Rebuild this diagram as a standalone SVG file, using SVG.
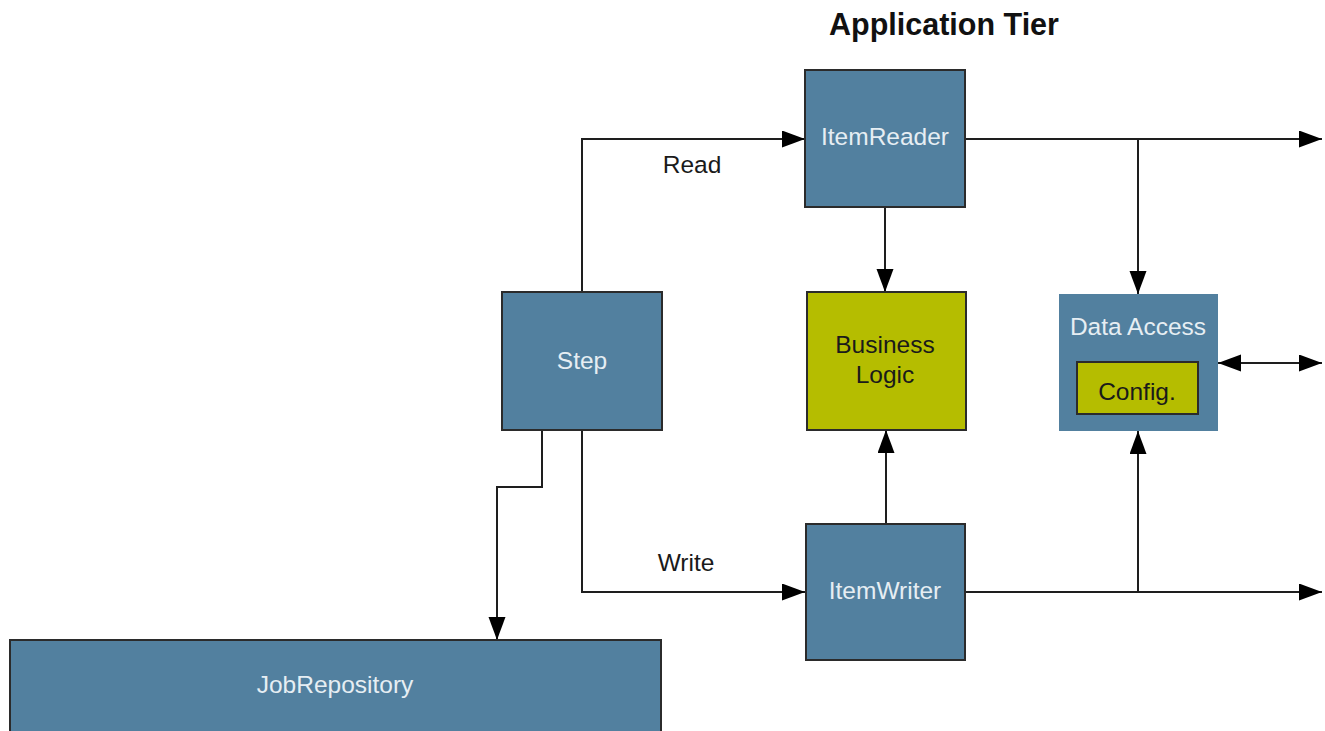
<svg xmlns="http://www.w3.org/2000/svg" width="1325" height="731" viewBox="0 0 1325 731">
<style>
.box{fill:#52809f;stroke:#2b2b2b;stroke-width:2}
.yel{fill:#b5bd00;stroke:#2b2b2b;stroke-width:2}
.lt{font-family:"Liberation Sans",Arial,sans-serif;font-size:24.5px;fill:#e6eef3;text-anchor:middle}
.dk{font-family:"Liberation Sans",Arial,sans-serif;font-size:24.5px;fill:#1a1a1a;text-anchor:middle}
.ln{fill:none;stroke:#1e1e1e;stroke-width:2}
</style>
<defs>
<marker id="ah" markerUnits="userSpaceOnUse" markerWidth="26" markerHeight="18" refX="23" refY="8.5" orient="auto-start-reverse">
<path d="M0,0 L23,8.5 L0,17 z" fill="#000"/>
</marker>
</defs>
<rect width="1325" height="731" fill="#fff"/>
<text x="944" y="35" font-family="'Liberation Sans',Arial,sans-serif" font-size="30.5" font-weight="bold" fill="#111" text-anchor="middle">Application Tier</text>
<g id="connectors">
<path class="ln" d="M582,292 V139 H805" marker-end="url(#ah)"/>
<path class="ln" d="M885,207 V292" marker-end="url(#ah)"/>
<path class="ln" d="M965,139 H1322" marker-end="url(#ah)"/>
<path class="ln" d="M1138,139 V294" marker-end="url(#ah)"/>
<path class="ln" d="M1218,363 H1322" marker-start="url(#ah)" marker-end="url(#ah)"/>
<path class="ln" d="M582,430 V592 H805" marker-end="url(#ah)"/>
<path class="ln" d="M542,430 V487 H497 V640" marker-end="url(#ah)"/>
<path class="ln" d="M886,524 V430" marker-end="url(#ah)"/>
<path class="ln" d="M965,592 H1322" marker-end="url(#ah)"/>
<path class="ln" d="M1138,592 V431" marker-end="url(#ah)"/>
<text x="692" y="173" class="dk">Read</text>
<text x="686" y="571" class="dk">Write</text>
</g>
<g id="itemreader">
<rect class="box" x="805" y="70" width="160" height="137"/>
<text x="885" y="145" class="lt">ItemReader</text>
</g>
<g id="step">
<rect class="box" x="502" y="292" width="160" height="138"/>
<text x="582" y="369" class="lt">Step</text>
</g>
<g id="businesslogic">
<rect class="yel" x="807" y="292" width="159" height="138"/>
<text x="885" y="353" class="dk">Business</text>
<text x="885" y="383" class="dk">Logic</text>
</g>
<g id="dataaccess">
<rect x="1059" y="294" width="159" height="137" fill="#52809f"/>
<text x="1138" y="335" class="lt">Data Access</text>
<g id="config">
<rect class="yel" x="1077" y="362" width="121" height="52"/>
<text x="1137" y="400" class="dk">Config.</text>
</g>
</g>
<g id="itemwriter">
<rect class="box" x="806" y="524" width="159" height="136"/>
<text x="885" y="599" class="lt">ItemWriter</text>
</g>
<g id="jobrepository">
<rect class="box" x="10" y="640" width="651" height="100"/>
<text x="335" y="693" class="lt">JobRepository</text>
</g>
</svg>
